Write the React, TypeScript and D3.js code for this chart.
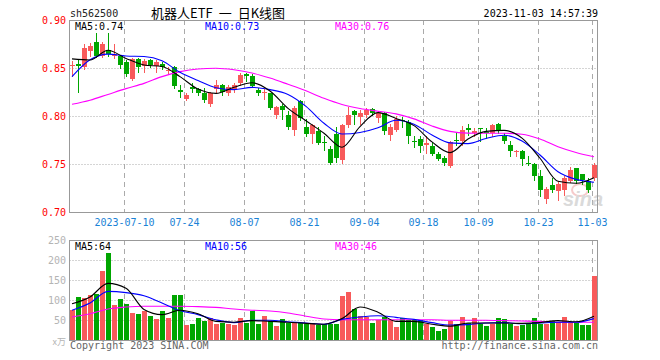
import React, { useRef, useEffect } from 'react';
import * as d3 from 'd3';

// daily candles, 2023-06-27 .. 2023-11-03 (88 trading days)
const open = [
  0.852, 0.854, 0.851, 0.868, 0.877, 0.862, 0.869, 0.862, 0.863, 0.856,
  0.839, 0.859, 0.852, 0.858, 0.852, 0.854, 0.848, 0.851, 0.827, 0.818,
  0.830, 0.828, 0.824, 0.813, 0.828, 0.832, 0.824, 0.827, 0.834, 0.844,
  0.842, 0.827, 0.824, 0.824, 0.801, 0.810, 0.801, 0.785, 0.816, 0.789,
  0.781, 0.784, 0.773, 0.766, 0.781, 0.754, 0.791, 0.805, 0.799, 0.801,
  0.807, 0.798, 0.803, 0.780, 0.785, 0.796, 0.794, 0.774, 0.776, 0.770,
  0.769, 0.760, 0.756, 0.748, 0.775, 0.774, 0.787, 0.782, 0.787, 0.783,
  0.782, 0.792, 0.779, 0.770, 0.764, 0.764, 0.751, 0.750, 0.737, 0.714,
  0.728, 0.722, 0.723, 0.732, 0.746, 0.740, 0.732, 0.735,
];
const high = [
  0.857, 0.858, 0.875, 0.876, 0.886, 0.877, 0.886, 0.875, 0.864, 0.858,
  0.860, 0.860, 0.859, 0.859, 0.858, 0.856, 0.851, 0.852, 0.832, 0.824,
  0.834, 0.829, 0.829, 0.825, 0.838, 0.833, 0.832, 0.834, 0.845, 0.845,
  0.844, 0.829, 0.828, 0.824, 0.810, 0.813, 0.805, 0.810, 0.817, 0.797,
  0.792, 0.789, 0.779, 0.769, 0.789, 0.792, 0.809, 0.806, 0.806, 0.808,
  0.808, 0.805, 0.804, 0.792, 0.800, 0.799, 0.796, 0.779, 0.779, 0.779,
  0.773, 0.763, 0.758, 0.774, 0.782, 0.790, 0.792, 0.788, 0.788, 0.787,
  0.792, 0.793, 0.782, 0.774, 0.765, 0.765, 0.758, 0.751, 0.744, 0.726,
  0.735, 0.732, 0.737, 0.747, 0.746, 0.740, 0.735, 0.751,
];
const low = [
  0.842, 0.825, 0.849, 0.862, 0.861, 0.861, 0.863, 0.860, 0.850, 0.842,
  0.838, 0.846, 0.846, 0.851, 0.846, 0.849, 0.844, 0.829, 0.820, 0.817,
  0.825, 0.822, 0.815, 0.810, 0.824, 0.822, 0.822, 0.825, 0.832, 0.836,
  0.830, 0.822, 0.818, 0.807, 0.798, 0.797, 0.786, 0.780, 0.796, 0.779,
  0.772, 0.771, 0.765, 0.750, 0.752, 0.751, 0.789, 0.792, 0.792, 0.799,
  0.801, 0.794, 0.781, 0.775, 0.784, 0.789, 0.772, 0.768, 0.763, 0.761,
  0.759, 0.754, 0.749, 0.747, 0.770, 0.770, 0.780, 0.779, 0.774, 0.777,
  0.779, 0.782, 0.772, 0.758, 0.758, 0.749, 0.749, 0.733, 0.717, 0.709,
  0.721, 0.713, 0.718, 0.731, 0.730, 0.729, 0.721, 0.733,
];
const close = [
  0.853, 0.852, 0.871, 0.873, 0.862, 0.875, 0.865, 0.865, 0.853, 0.844,
  0.859, 0.851, 0.857, 0.853, 0.856, 0.851, 0.848, 0.831, 0.825, 0.822,
  0.828, 0.824, 0.817, 0.824, 0.832, 0.825, 0.830, 0.832, 0.843, 0.842,
  0.831, 0.824, 0.825, 0.808, 0.809, 0.806, 0.789, 0.808, 0.798, 0.781,
  0.791, 0.772, 0.772, 0.751, 0.756, 0.791, 0.801, 0.801, 0.803, 0.806,
  0.803, 0.803, 0.784, 0.789, 0.797, 0.795, 0.779, 0.773, 0.769, 0.772,
  0.760, 0.755, 0.751, 0.773, 0.774, 0.785, 0.785, 0.784, 0.786, 0.782,
  0.791, 0.785, 0.774, 0.764, 0.764, 0.755, 0.750, 0.738, 0.723, 0.724,
  0.723, 0.729, 0.735, 0.744, 0.732, 0.733, 0.723, 0.749,
];
// volume, 万手
const volume = [
  78, 110, 108, 114, 117, 175, 220, 89, 104, 92,
  70, 67, 75, 62, 54, 75, 57, 114, 114, 39,
  42, 57, 50, 57, 42, 45, 42, 39, 57, 45,
  74, 42, 62, 50, 37, 54, 45, 47, 45, 42,
  45, 39, 42, 42, 42, 112, 122, 81, 62, 60,
  45, 52, 60, 53, 35, 58, 52, 52, 52, 42,
  35, 25, 31, 50, 43, 60, 45, 57, 42, 37,
  42, 57, 54, 42, 37, 39, 42, 57, 42, 42,
  50, 47, 60, 47, 45, 39, 39, 162,
];

// moving averages read every third trading day
const maIndex = d3.range(0, 88, 3);
const priceMA5 = [
  0.8595, 0.8583, 0.8685, 0.8600, 0.8532, 0.8515, 0.8410, 0.8280, 0.8236, 0.8300,
  0.8347, 0.8260, 0.8080, 0.7950, 0.7820, 0.7675, 0.7890, 0.8035, 0.7975, 0.7900,
  0.7730, 0.7618, 0.7760, 0.7840, 0.7850, 0.7770, 0.7560, 0.7320, 0.7300, 0.7358,
];
const priceMA10 = [
  0.8410, 0.8585, 0.8645, 0.8625, 0.8620, 0.8575, 0.8455, 0.8370, 0.8295, 0.8275,
  0.8298, 0.8275, 0.8225, 0.8100, 0.7924, 0.7812, 0.7828, 0.7878, 0.7955, 0.7915,
  0.7802, 0.7720, 0.7712, 0.7765, 0.7800, 0.7740, 0.7594, 0.7420, 0.7340, 0.7310,
];
const priceMA30 = [
  0.8122, 0.8165, 0.8225, 0.8285, 0.8340, 0.8410, 0.8462, 0.8490, 0.8497, 0.8481,
  0.8448, 0.8395, 0.8330, 0.8262, 0.8184, 0.8120, 0.8078, 0.8050, 0.8022, 0.7970,
  0.7896, 0.7840, 0.7822, 0.7820, 0.7820, 0.7810, 0.7760, 0.7680, 0.7620, 0.7575,
];
const volMA5 = [
  93, 110, 144, 132, 79, 66, 77, 68, 49, 47, 51, 49, 47, 44, 42,
  56, 85, 72, 49, 49, 42, 37, 45, 45, 45, 44, 46, 51, 48, 62,
];
const volMA10 = [
  77, 95, 124, 121, 113, 95, 76, 66, 53, 46, 52, 52, 48, 45, 42,
  54, 60, 63, 59, 54, 46, 40, 41, 45, 46, 43, 45, 47, 47, 56,
];
const volMA30 = [
  60, 68, 80, 85, 87, 87, 87, 86, 84, 80, 77, 75, 70, 62, 55,
  53, 53, 53, 53, 53, 53, 52, 52, 52, 51, 50, 49, 47, 47, 47,
];

const tickIndex = [9, 19, 29, 39, 49, 59, 68, 78, 87];
const tickLabels = ['2023-07-10', '07-24', '08-07', '08-21', '09-04', '09-18', '10-09', '10-23', '11-03'];
const priceTicks = [0.7, 0.75, 0.8, 0.85, 0.9];
const volumeTicks = [50, 100, 150, 200, 250];

const UP = '#f85a5a';
const DOWN = '#00a600';
const GRID = '#aaaaaa';
const MONO = '"DejaVu Sans Mono", monospace';
const CJK = '"Noto Sans CJK SC", sans-serif';

const KLineChart: React.FC = () => {
  const svgRef = useRef<SVGSVGElement | null>(null);

  useEffect(() => {
    const svg = d3.select(svgRef.current);
    svg.selectAll('*').remove();

    const left = 69.5;
    const right = 597.5;
    const priceTop = 20;
    const priceBottom = 212;
    const volTop = 240;
    const volBottom = 340;

    const x = d3.scaleLinear().domain([0, 87]).range([72, 594]);
    const y = d3.scaleLinear().domain([0.7, 0.9]).range([priceBottom, priceTop]);
    const yv = d3.scaleLinear().domain([0, 250]).range([volBottom + 1, volTop + 1]);
    const gx = (i: number) => Math.floor(x(i)) - 1.5;

    svg.append('rect').attr('width', 660).attr('height', 360).attr('fill', '#fff');

    const defs = svg.append('defs');
    defs.append('clipPath').attr('id', 'priceClip')
      .append('rect').attr('x', 70).attr('y', priceTop + 1).attr('width', 527).attr('height', priceBottom - priceTop - 1);
    defs.append('clipPath').attr('id', 'volClip')
      .append('rect').attr('x', 70).attr('y', volTop + 1).attr('width', 527).attr('height', volBottom - volTop - 1);

    // horizontal dotted grid
    svg.append('g')
      .selectAll('line')
      .data(priceTicks.filter((t) => t > 0.7 && t < 0.9))
      .enter()
      .append('line')
      .attr('x1', left).attr('x2', right)
      .attr('y1', (d) => Math.round(y(d)) + 0.5).attr('y2', (d) => Math.round(y(d)) + 0.5)
      .attr('stroke', GRID).attr('stroke-dasharray', '1,2');

    svg.append('g')
      .selectAll('line')
      .data(volumeTicks.filter((t) => t < 250))
      .enter()
      .append('line')
      .attr('x1', left).attr('x2', right)
      .attr('y1', (d) => Math.round(yv(d)) - 0.5).attr('y2', (d) => Math.round(yv(d)) - 0.5)
      .attr('stroke', GRID).attr('stroke-dasharray', '1,2');

    // vertical dashed grid
    const vg = svg.append('g');
    tickIndex.forEach((i) => {
      vg.append('line').attr('x1', gx(i)).attr('x2', gx(i)).attr('y1', priceTop).attr('y2', priceBottom)
        .attr('stroke', GRID).attr('stroke-dasharray', '5,4');
      vg.append('line').attr('x1', gx(i)).attr('x2', gx(i)).attr('y1', volTop).attr('y2', volBottom)
        .attr('stroke', GRID).attr('stroke-dasharray', '5,4');
    });

    // watermark
    const wm = svg.append('g').attr('opacity', 0.55);
    wm.append('ellipse').attr('cx', 580).attr('cy', 190).attr('rx', 8).attr('ry', 6)
      .attr('fill', 'none').attr('stroke', '#f0a0a0').attr('stroke-width', 2);
    wm.append('text').attr('x', 563).attr('y', 206)
      .style('font-family', 'Arial, "Liberation Sans", sans-serif')
      .style('font-size', '20px').style('font-weight', 'bold').style('font-style', 'italic')
      .attr('fill', '#bdbdbd').text('sina');

    // candles
    const candles = svg.append('g');
    d3.range(close.length).forEach((i) => {
      const up = close[i] >= open[i];
      const color = up ? UP : DOWN;
      const cx = Math.round(x(i));
      candles.append('line')
        .attr('x1', cx + 0.5).attr('x2', cx + 0.5)
        .attr('y1', Math.round(y(high[i]))).attr('y2', Math.round(y(low[i])) + 1)
        .attr('stroke', color);
      const yt = Math.round(y(Math.max(open[i], close[i])));
      const yb = Math.round(y(Math.min(open[i], close[i])));
      candles.append('rect')
        .attr('x', cx - 2).attr('y', yt)
        .attr('width', 5).attr('height', Math.max(1, yb - yt))
        .attr('fill', color);
    });

    // volume bars
    svg.append('g')
      .selectAll('rect')
      .data(volume)
      .enter()
      .append('rect')
      .attr('x', (d, i) => Math.round(x(i)) - 2)
      .attr('y', (d) => Math.round(yv(d)))
      .attr('width', 5)
      .attr('height', (d) => volBottom - Math.round(yv(d)))
      .attr('fill', (d, i) => (close[i] >= open[i] ? UP : DOWN));

    const priceLine = d3.line<number>()
      .x((d, k) => x(maIndex[k]))
      .y((d) => y(d))
      .curve(d3.curveMonotoneX);
    const volLine = d3.line<number>()
      .x((d, k) => x(maIndex[k]))
      .y((d) => yv(d))
      .curve(d3.curveMonotoneX);

    const maSeries: [number[], number[], string][] = [
      [priceMA30, volMA30, '#ff00ff'],
      [priceMA10, volMA10, '#0000ff'],
      [priceMA5, volMA5, '#000000'],
    ];
    maSeries.forEach(([p, v, c]) => {
      svg.append('path').attr('clip-path', 'url(#priceClip)')
        .attr('d', priceLine(p)).attr('fill', 'none').attr('stroke', c).attr('stroke-width', 1.1);
      svg.append('path').attr('clip-path', 'url(#volClip)')
        .attr('d', volLine(v)).attr('fill', 'none').attr('stroke', c).attr('stroke-width', 1.1);
    });

    // frames
    svg.append('rect').attr('x', left).attr('y', priceTop + 0.5).attr('width', right - left).attr('height', priceBottom - priceTop)
      .attr('fill', 'none').attr('stroke', '#999');
    svg.append('rect').attr('x', left).attr('y', volTop + 0.5).attr('width', right - left).attr('height', volBottom - volTop)
      .attr('fill', 'none').attr('stroke', '#999');

    const txt = (sel: d3.Selection<SVGSVGElement | null, unknown, null, undefined>) =>
      sel.append('text').style('font-family', MONO).style('font-size', '10px');

    // price axis labels
    priceTicks.forEach((t) => {
      txt(svg).attr('x', 66).attr('y', y(t) + 4).attr('text-anchor', 'end').attr('fill', '#ff0000').text(t.toFixed(2));
    });
    // volume axis labels
    volumeTicks.forEach((t) => {
      txt(svg).attr('x', 66).attr('y', yv(t) + 3).attr('text-anchor', 'end').attr('fill', '#b4b4b4').text(String(t));
    });
    svg.append('text').attr('x', 66).attr('y', volBottom + 5).attr('text-anchor', 'end')
      .style('font-family', CJK).style('font-size', '9px')
      .attr('fill', '#b4b4b4').text('x万');

    // date labels
    tickIndex.forEach((i, k) => {
      txt(svg).attr('x', gx(i)).attr('y', 226).attr('text-anchor', 'middle').attr('fill', '#1a82d6').text(tickLabels[k]);
    });

    // legends
    const legend = (yy: number, a: string, b: string, c: string) => {
      txt(svg).attr('x', 75).attr('y', yy).attr('fill', '#000').text(a);
      txt(svg).attr('x', 205).attr('y', yy).attr('fill', '#0000ff').text(b);
      txt(svg).attr('x', 335).attr('y', yy).attr('fill', '#ff00ff').text(c);
    };
    legend(30, 'MA5:0.74', 'MA10:0.73', 'MA30:0.76');
    legend(250, 'MA5:64', 'MA10:56', 'MA30:46');

    // header
    txt(svg).attr('x', 70).attr('y', 17).attr('fill', '#222').text('sh562500');
    const title = svg.append('text').attr('x', 151).attr('y', 18)
      .style('font-family', CJK).style('font-size', '13px').attr('fill', '#000');
    title.append('tspan').text('机器人ETF');
    title.append('tspan').attr('dx', 6).text('一');
    title.append('tspan').attr('dx', 6).text('日K线图');
    txt(svg).attr('x', 598).attr('y', 17).attr('text-anchor', 'end').attr('fill', '#000').text('2023-11-03 14:57:39');

    // footer
    txt(svg).attr('x', 70).attr('y', 349).attr('fill', '#666').text('Copyright 2023 SINA.COM');
    txt(svg).attr('x', 598).attr('y', 349).attr('text-anchor', 'end').attr('fill', '#666').text('http://finance.sina.com.cn');
  }, []);

  return (
    <svg
      ref={svgRef}
      width={660}
      height={360}
      style={{ position: 'absolute', left: 0, top: 0, display: 'block' }}
    ></svg>
  );
};

export default function App() {
  return <KLineChart />;
}
